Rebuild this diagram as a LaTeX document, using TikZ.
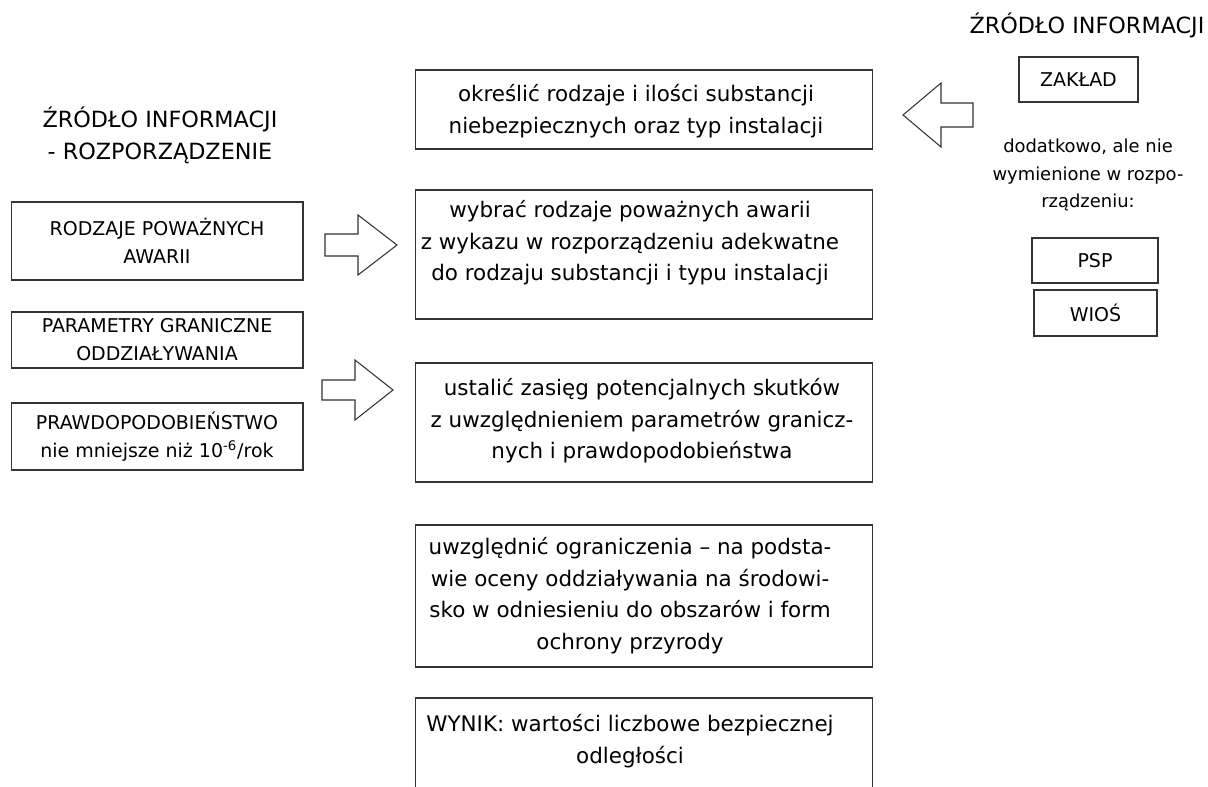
\documentclass[tikz,border=0pt]{standalone}
\usepackage{fontspec}
\setmainfont{DejaVu Sans}
\usetikzlibrary{positioning}

\begin{document}
\begin{tikzpicture}[x=0.02cm, y=-0.02cm,
    frame/.style={draw=black!80, line width=0.6pt, inner sep=0pt, align=center},
    midbox/.style={frame, minimum width=9.16cm},
    sidebox/.style={frame, minimum width=5.84cm, font=\fontsize{10.8}{16}\selectfont},
    srcbox/.style={frame, minimum height=0.9cm, font=\fontsize{10.8}{13}\selectfont},
    midtext/.style={align=center, inner sep=0pt, font=\fontsize{12.2}{18}\selectfont},
    heading/.style={align=center, inner sep=0pt, font=\fontsize{12.7}{18}\selectfont},
    note/.style={align=center, inner sep=0pt, font=\fontsize{10.2}{15.6}\selectfont},
    blockarrow/.style={draw=black!80, line width=0.6pt, line join=miter}]
    \useasboundingbox (0,0) rectangle (1208,787);
    \clip (0,0) rectangle (1208,787);

    % Nodes
    % left: source = regulation
    \node[heading] (zrodloL) at (160,135) {ŹRÓDŁO INFORMACJI\\- ROZPORZĄDZENIE};
    \node[sidebox, minimum height=1.56cm] (rodzaje) at (157,241) {RODZAJE POWAŻNYCH\\AWARII};
    \node[sidebox, minimum height=1.12cm] (parametry) at (157,340) {PARAMETRY GRANICZNE\\ODDZIAŁYWANIA};
    \node[sidebox, minimum height=1.34cm] (prawdop) at (157,436.5) {PRAWDOPODOBIEŃSTWO\\nie mniejsze niż 10\textsuperscript{-6}/rok};

    % middle: steps
    \node[midbox, minimum height=1.58cm] (okreslic) at (644,109.5) {};
    \node[midtext] (okreslicT) at (636,111) {określić rodzaje i ilości substancji\\niebezpiecznych oraz typ instalacji};
    \node[midbox, minimum height=2.58cm] (wybrac) at (644,254.5) {};
    \node[midtext] (wybracT) at (630,243) {wybrać rodzaje poważnych awarii\\z wykazu w rozporządzeniu adekwatne\\do rodzaju substancji i typu instalacji};
    \node[midbox, minimum height=2.38cm] (ustalic) at (644,422.5) {};
    \node[midtext] (ustalicT) at (642,421) {ustalić zasięg potencjalnych skutków\\z uwzględnieniem parametrów granicz-\\nych i prawdopodobieństwa};
    \node[midbox, minimum height=2.84cm] (uwzgl) at (644,596) {};
    \node[midtext] (uwzglT) at (630,595.5) {uwzględnić ograniczenia – na podsta-\\wie oceny oddziaływania na środowi-\\sko w odniesieniu do obszarów i form\\ochrony przyrody};
    \node[midbox, minimum height=4cm] (wynik) at (644,798) {};
    \node[midtext] (wynikT) at (630,741) {WYNIK: wartości liczbowe bezpiecznej\\odległości};

    % right: source = plant
    \node[heading] (zrodloP) at (1087,25) {ŹRÓDŁO INFORMACJI};
    \node[srcbox, minimum width=2.38cm] (zaklad) at (1078.5,79.5) {ZAKŁAD};
    \node[note] (dodatkowo) at (1088,175) {dodatkowo, ale nie\\wymienione w rozpo-\\rządzeniu:};
    \node[srcbox, minimum width=2.52cm] (psp) at (1095,260.5) {PSP};
    \node[srcbox, minimum width=2.46cm, minimum height=0.92cm] (wios) at (1095.5,313) {WIOŚ};

    % hollow arrows
    \coordinate (strzalka1) at (325,245);
    \coordinate (strzalka2) at (322,390);
    \coordinate (strzalka3) at (973,115);
    \draw[blockarrow] (strzalka1) -- ++(0,-11) -- ++(33,0) -- ++(0,-19) -- ++(39,30) -- ++(-39,30) -- ++(0,-19) -- ++(-33,0) -- cycle;
    \draw[blockarrow] (strzalka2) -- ++(0,-10) -- ++(33,0) -- ++(0,-20) -- ++(38,30) -- ++(-38,30) -- ++(0,-20) -- ++(-33,0) -- cycle;
    \draw[blockarrow] (strzalka3) -- ++(0,-12) -- ++(-32,0) -- ++(0,-20) -- ++(-38,32) -- ++(38,32) -- ++(0,-20) -- ++(32,0) -- cycle;

\end{tikzpicture}
\end{document}
